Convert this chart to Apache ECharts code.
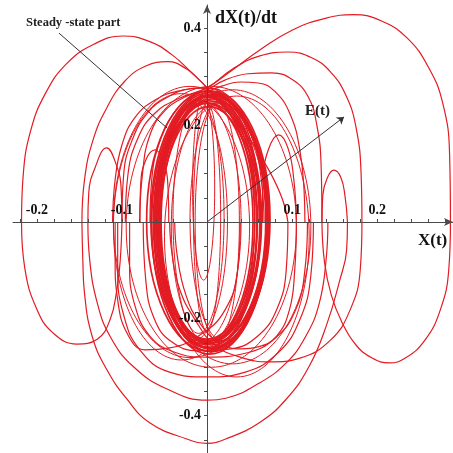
<!DOCTYPE html>
<html>
<head>
<meta charset="utf-8">
<script src="https://cdn.jsdelivr.net/npm/echarts@6/dist/echarts.min.js"></script>
<style>
  html, body { margin: 0; padding: 0; background: #ffffff; }
  #chart { width: 453px; height: 453px; }
</style>
</head>
<body>
<div id="chart"></div>
<script>
// Phase-plane trajectory: displacement X(t) against velocity dX(t)/dt

// axis ticks and labels
const xTickLabels = [-0.2, -0.1, 0.1, 0.2];
const yTickLabels = [-0.4, -0.2, 0.2, 0.4];
const xTicks = [-0.22, -0.2, -0.18, -0.16, -0.14, -0.12, -0.1, -0.08, -0.06, -0.04, -0.02,
                0.02, 0.04, 0.06, 0.08, 0.1, 0.12, 0.14, 0.16, 0.18, 0.2, 0.22, 0.24, 0.26, 0.28];
const yTicks = [-0.45, -0.4, -0.35, -0.3, -0.25, -0.2, -0.15, -0.1, -0.05,
                0.05, 0.1, 0.15, 0.2, 0.25, 0.3, 0.35, 0.4];

// transient branches, [X, dX/dt]
const arcBigRight = [[-0.079, 0], [-0.076, 0.097], [-0.067, 0.180], [-0.049, 0.231], [-0.026, 0.258],
  [0, 0.277], [0.027, 0.31], [0.062, 0.355], [0.101, 0.397], [0.14, 0.421], [0.172, 0.428],
  [0.205, 0.415], [0.235, 0.38], [0.26, 0.32], [0.277, 0.245], [0.285, 0.14], [0.286, 0]];
const arcLowRight = [[0.286, 0], [0.284, -0.099], [0.274, -0.182], [0.256, -0.244], [0.233, -0.281],
  [0.214, -0.291], [0.194, -0.281], [0.175, -0.254], [0.159, -0.209], [0.146, -0.151],
  [0.138, -0.083], [0.135, 0]];
const arcSmallRight = [[0.135, 0], [0.136, 0.055], [0.141, 0.09], [0.149, 0.107], [0.157, 0.093],
  [0.162, 0.055], [0.165, 0]];
const arcLowBig = [[0.165, 0], [0.164, -0.058], [0.156, -0.12], [0.14, -0.215], [0.12, -0.298],
  [0.093, -0.366], [0.061, -0.415], [0.022, -0.448], [0, -0.457], [-0.024, -0.448],
  [-0.067, -0.415], [-0.094, -0.366], [-0.118, -0.304], [-0.135, -0.236], [-0.144, -0.147],
  [-0.146, -0.076], [-0.147, 0]];
const arcUpLeft2 = [[-0.147, 0], [-0.144, 0.087], [-0.134, 0.169], [-0.118, 0.235], [-0.097, 0.29],
  [-0.072, 0.322], [-0.046, 0.331], [-0.024, 0.316], [-0.01, 0.295], [0, 0.277],
  [0.018, 0.244], [0.036, 0.194], [0.053, 0.128], [0.062, 0.056], [0.065, 0]];
const arcUpRight2 = [[-0.096, 0], [-0.093, 0.097], [-0.081, 0.174], [-0.061, 0.225], [-0.032, 0.256],
  [0, 0.277], [0.03, 0.316], [0.062, 0.343], [0.095, 0.351], [0.123, 0.339], [0.145, 0.31],
  [0.163, 0.262], [0.175, 0.196], [0.181, 0.1], [0.182, 0]];
const arcUpRight3 = [[-0.067, 0], [-0.065, 0.087], [-0.055, 0.169], [-0.038, 0.227], [-0.018, 0.26],
  [0, 0.273], [0.021, 0.293], [0.048, 0.306], [0.076, 0.308], [0.101, 0.293], [0.119, 0.258],
  [0.129, 0.2], [0.134, 0.118], [0.135, 0]];
const arcUpRight4 = [[-0.055, 0], [-0.053, 0.087], [-0.044, 0.159], [-0.029, 0.215], [-0.014, 0.252],
  [0, 0.269], [0.018, 0.281], [0.039, 0.289], [0.06, 0.287], [0.08, 0.269], [0.098, 0.221],
  [0.109, 0.149], [0.114, 0.066], [0.115, 0]];
const arcHumpRight = [[0.065, 0], [0.066, 0.087], [0.072, 0.149], [0.084, 0.18], [0.095, 0.153],
  [0.102, 0.087], [0.105, 0]];
const arcUpLeft3 = [[-0.1, 0], [-0.098, 0.097], [-0.088, 0.169], [-0.069, 0.227], [-0.044, 0.26],
  [-0.02, 0.275], [0, 0.277], [0.018, 0.264], [0.036, 0.227], [0.051, 0.169], [0.059, 0.087],
  [0.061, 0]];
const arcUpLeft4 = [[-0.111, 0], [-0.108, 0.087], [-0.1, 0.159], [-0.085, 0.215], [-0.061, 0.252],
  [-0.032, 0.271], [0, 0.277], [0.025, 0.26], [0.045, 0.215], [0.058, 0.149], [0.065, 0.066],
  [0.067, 0]];
const arcHumpLeft = [[-0.079, 0], [-0.078, 0.076], [-0.072, 0.128], [-0.061, 0.149], [-0.052, 0.128],
  [-0.046, 0.076], [-0.045, 0]];
const arcLowMid = [[0.182, 0], [0.18, -0.099], [0.168, -0.182], [0.145, -0.244], [0.109, -0.281],
  [0.074, -0.289], [0.039, -0.279], [0.009, -0.254], [-0.014, -0.202], [-0.032, -0.14],
  [-0.041, -0.068], [-0.044, 0]];
const arcLowMid2 = [[0.118, 0], [0.115, -0.099], [0.104, -0.182], [0.08, -0.24], [0.045, -0.271],
  [0, -0.279], [-0.038, -0.269], [-0.067, -0.236], [-0.085, -0.171], [-0.091, -0.089], [-0.091, 0]];
const arcLowMid3 = [[0.125, 0], [0.122, -0.11], [0.109, -0.202], [0.084, -0.269], [0.045, -0.31],
  [0, -0.32], [-0.044, -0.31], [-0.079, -0.264], [-0.098, -0.192], [-0.105, -0.099], [-0.105, 0]];
const arcLowMid4 = [[0.095, 0], [0.093, -0.1], [0.082, -0.18], [0.06, -0.235], [0.028, -0.262],
  [-0.01, -0.266], [-0.042, -0.247], [-0.062, -0.2], [-0.072, -0.12], [-0.075, 0]];
const arcLowMid5 = [[0.105, 0], [0.103, -0.1], [0.097, -0.18], [0.082, -0.235], [0.06, -0.258],
  [0.04, -0.262], [0.015, -0.25], [-0.008, -0.21], [-0.025, -0.15], [-0.035, -0.07], [-0.038, 0]];
const arcLowLeftMid = [[0.039, 0], [0.036, -0.099], [0.021, -0.182], [-0.008, -0.233], [-0.044, -0.26],
  [-0.073, -0.264], [-0.093, -0.233], [-0.105, -0.161], [-0.108, -0.079], [-0.108, 0]];
const arcLow2 = [[0.142, 0], [0.14, -0.076], [0.132, -0.167], [0.116, -0.236], [0.093, -0.291],
  [0.061, -0.333], [0.022, -0.364], [0, -0.368], [-0.047, -0.345], [-0.087, -0.298],
  [-0.114, -0.236], [-0.129, -0.167], [-0.138, -0.076], [-0.14, 0]];
const arcSmallLeft = [[-0.14, 0], [-0.139, 0.06], [-0.132, 0.11], [-0.118, 0.153], [-0.107, 0.12],
  [-0.101, 0.07], [-0.1, 0]];
const arcLowLeft = [[-0.1, 0], [-0.102, -0.079], [-0.106, -0.14], [-0.114, -0.202], [-0.129, -0.242],
  [-0.153, -0.252], [-0.181, -0.229], [-0.2, -0.18], [-0.214, -0.097], [-0.218, 0]];
const arcBigLeft = [[-0.218, 0], [-0.216, 0.097], [-0.207, 0.19], [-0.19, 0.265], [-0.165, 0.327],
  [-0.133, 0.367], [-0.099, 0.384], [-0.068, 0.373], [-0.041, 0.345], [-0.018, 0.308],
  [0, 0.277], [0.025, 0.227], [0.051, 0.169], [0.074, 0.103], [0.089, 0.045], [0.095, 0]];

// near-periodic orbits, [centre X, centre dX/dt, half-width, half-height]
const steadyOrbits = [
  [0.002, 0.005, 0.062, 0.255], [0.004, 0.0, 0.066, 0.262], [0.0, 0.008, 0.059, 0.25],
  [0.003, -0.003, 0.068, 0.27], [0.005, 0.004, 0.064, 0.258], [0.001, 0.0, 0.061, 0.246],
  [0.004, 0.006, 0.07, 0.265], [0.002, -0.004, 0.057, 0.242], [0.006, 0.002, 0.065, 0.252],
  [0.0, 0.0, 0.063, 0.26], [0.003, 0.002, 0.0605, 0.248], [0.005, -0.002, 0.067, 0.266],
  [-0.002, 0.003, 0.058, 0.256], [0.007, -0.001, 0.063, 0.262], [0.0, 0.0, 0.054, 0.245],
  [0.001, 0.002, 0.072, 0.268]
];
const innerOrbits = [
  [0.0, 0.01, 0.016, 0.235], [0.012, 0.0, 0.026, 0.245], [-0.01, 0.01, 0.03, 0.24],
  [0.018, 0.005, 0.038, 0.25], [-0.016, 0.0, 0.04, 0.245], [-0.004, 0.07, 0.013, 0.19],
  [0.008, -0.01, 0.05, 0.25], [-0.008, 0.0, 0.048, 0.25]
];
const wideOrbits = [
  [0.005, -0.01, 0.1, 0.29], [-0.02, 0.0, 0.09, 0.28], [0.03, -0.01, 0.092, 0.283],
  [-0.03, -0.01, 0.08, 0.275], [0.035, -0.03, 0.085, 0.29]
];

const RED = '#e31b23';
const AXIS = '#4a4a4a';
const SERIF = '"Liberation Serif", "Times New Roman", serif';
const W = 453, H = 453;
const GRID = { left: 13, right: 0, top: 5, bottom: 0 };

function branch(points) {
  return {
    type: 'line', data: points, smooth: 0.45, symbol: 'none', z: 3,
    lineStyle: { color: RED, width: 1.2 }, silent: true, animation: false
  };
}

function orbitSeries(items, width) {
  return {
    type: 'custom', data: items, clip: true, z: 2, silent: true, animation: false,
    dimensions: ['cx', 'cy', 'a', 'b'],
    encode: { x: 0, y: 1 },
    renderItem: function (params, api) {
      const c = api.coord([api.value(0), api.value(1)]);
      const s = api.size([api.value(2), api.value(3)]);
      return {
        type: 'ellipse',
        shape: { cx: c[0], cy: c[1], rx: s[0], ry: s[1] },
        style: { fill: 'none', stroke: RED, lineWidth: width }
      };
    }
  };
}

const branches = [arcBigRight, arcLowRight, arcSmallRight, arcLowBig, arcUpLeft2, arcUpRight2,
  arcUpRight3, arcUpRight4, arcHumpRight, arcUpLeft3, arcUpLeft4, arcHumpLeft, arcLowMid,
  arcLowMid2, arcLowMid3, arcLowMid4, arcLowMid5, arcLowLeftMid, arcLow2, arcSmallLeft,
  arcLowLeft, arcBigLeft];

const chart = echarts.init(document.getElementById('chart'), null, { renderer: 'canvas' });

chart.setOption({
  backgroundColor: '#ffffff',
  animation: false,
  grid: Object.assign({ containLabel: false, outerBoundsMode: 'none' }, GRID),
  xAxis: {
    type: 'value', min: -0.228, max: 0.289, z: 10,
    axisLine: { onZero: false, symbol: ['none', 'arrow'], symbolSize: [6, 9],
                lineStyle: { color: AXIS, width: 1 } },
    axisTick: { show: true, inside: true, length: 3, customValues: xTicks,
                lineStyle: { color: AXIS } },
    axisLabel: { inside: true, margin: 5, customValues: xTickLabels, color: '#111',
                 fontFamily: SERIF, fontWeight: 'bold', fontSize: 14 },
    splitLine: { show: false }
  },
  yAxis: {
    type: 'value', min: -0.477, max: 0.448, z: 10,
    axisLine: { onZero: false, symbol: ['none', 'arrow'], symbolSize: [6, 9],
                lineStyle: { color: AXIS, width: 1 } },
    axisTick: { show: true, length: 3, customValues: yTicks, lineStyle: { color: AXIS } },
    axisLabel: { margin: 6, customValues: yTickLabels, color: '#111',
                 fontFamily: SERIF, fontWeight: 'bold', fontSize: 14 },
    splitLine: { show: false }
  },
  graphic: [
    { type: 'text', left: 215, top: 9, z: 20,
      style: { text: 'dX(t)/dt', font: 'bold 18px ' + SERIF, fill: '#111' } },
    { type: 'text', left: 418, top: 232, z: 20,
      style: { text: 'X(t)', font: 'bold 17px ' + SERIF, fill: '#111' } },
    { type: 'text', left: 26, top: 16, z: 20,
      style: { text: 'Steady -state part', font: 'bold 12.5px ' + SERIF, fill: '#222' } },
    { type: 'text', left: 305, top: 104, z: 20,
      style: { text: 'E(t)', font: 'bold 15px ' + SERIF, fill: '#222' } }
  ],
  series: [
    orbitSeries(steadyOrbits, 1.7),
    orbitSeries(innerOrbits, 1),
    orbitSeries(wideOrbits, 1)
  ].concat(branches.map(branch)).concat([
    {
      type: 'line', data: [], silent: true, z: 8,
      markLine: {
        silent: true, animation: false, label: { show: false },
        symbol: ['none', 'none'],
        lineStyle: { color: '#333', width: 1, type: 'solid' },
        data: [
          [{ coord: [-0.174, 0.39] }, { coord: [-0.047, 0.194] }],
          [{ coord: [0, 0], symbol: 'none' }, { coord: [0.161, 0.217], symbol: 'arrow', symbolSize: 7 }]
        ]
      }
    }
  ])
});

// place both axes through the origin, labels included
const origin = chart.convertToPixel({ gridIndex: 0 }, [0, 0]);
chart.setOption({
  xAxis: { offset: origin[1] - (H - GRID.bottom) },
  yAxis: { offset: GRID.left - origin[0] }
});
</script>
</body>
</html>
